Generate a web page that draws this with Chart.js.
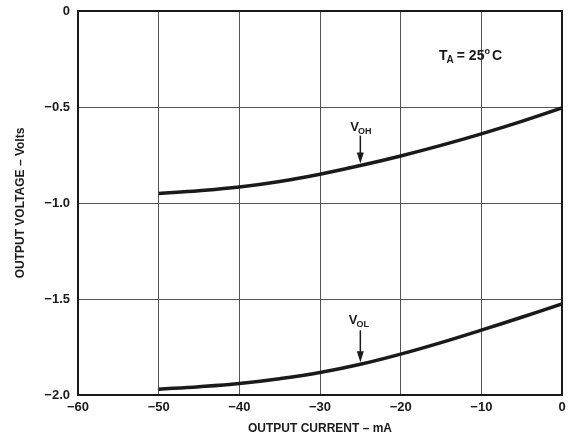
<!DOCTYPE html>
<html><head><meta charset="utf-8">
<script src="https://cdn.jsdelivr.net/npm/chart.js@4/dist/chart.umd.min.js"></script>
<style>html,body{margin:0;padding:0;background:#fff}#wrap{width:568px;height:444px}</style>
</head><body><div id="wrap"><canvas id="c" width="568" height="444"></canvas></div>
<script>
const currents = [-50, -45, -40, -35, -30, -25, -20, -15, -10, -5, 0];
const vohValues = [-0.95, -0.936, -0.917, -0.888, -0.85, -0.805, -0.755, -0.70, -0.64, -0.575, -0.505];
const volValues = [-1.97, -1.957, -1.94, -1.915, -1.883, -1.84, -1.787, -1.727, -1.662, -1.595, -1.525];
const xTicks = [-60, -50, -40, -30, -20, -10, 0];
const yTicks = [0, -0.5, -1.0, -1.5, -2.0];
const xTitle = "OUTPUT CURRENT \u2013 mA";
const yTitle = "OUTPUT VOLTAGE \u2013 Volts";
const arrowAt = -25;

const FONT = "'Liberation Sans', Arial, sans-serif";
const INK = '#1a1a1a';

function fmtY(v){ return v === 0 ? '0' : '\u2212' + Math.abs(v).toFixed(1); }
function fmtX(v){ return v === 0 ? '0' : '\u2212' + Math.abs(v); }

function labelWithSub(ctx, x, y, main, sub, mainSize, subSize){
  ctx.font = `bold ${mainSize}px ${FONT}`;
  const w1 = ctx.measureText(main).width;
  ctx.font = `bold ${subSize}px ${FONT}`;
  const w2 = ctx.measureText(sub).width;
  let sx = x - (w1 + w2) / 2;
  ctx.textAlign = 'left'; ctx.textBaseline = 'alphabetic';
  ctx.font = `bold ${mainSize}px ${FONT}`;
  ctx.fillText(main, sx, y);
  ctx.font = `bold ${subSize}px ${FONT}`;
  ctx.fillText(sub, sx + w1 - 1, y + 3);
}

function arrow(ctx, x, y0, y1){
  ctx.strokeStyle = INK; ctx.fillStyle = INK; ctx.lineWidth = 1.5;
  ctx.beginPath(); ctx.moveTo(x, y0); ctx.lineTo(x, y1 - 8); ctx.stroke();
  ctx.beginPath(); ctx.moveTo(x - 3.5, y1 - 11); ctx.lineTo(x + 3.5, y1 - 11); ctx.lineTo(x, y1); ctx.closePath(); ctx.fill();
}

const annot = {
  id: 'annot',
  afterDraw(chart){
    const ctx = chart.ctx, a = chart.chartArea;
    const xs = chart.scales.x, ys = chart.scales.y;
    ctx.save();
    ctx.strokeStyle = INK; ctx.lineWidth = 2;
    ctx.strokeRect(a.left, a.top, a.right - a.left, a.bottom - a.top);
    ctx.fillStyle = INK;
    const i = currents.indexOf(arrowAt);
    const px = xs.getPixelForValue(arrowAt);
    const yOH = ys.getPixelForValue(vohValues[i]);
    const yOL = ys.getPixelForValue(volValues[i]);
    labelWithSub(ctx, px + 1, yOH - 35, 'V', 'OH', 13, 9);
    arrow(ctx, px, yOH - 30, yOH - 2);
    ctx.fillStyle = INK;
    labelWithSub(ctx, px - 1, yOL - 40, 'V', 'OL', 13, 9);
    arrow(ctx, px, yOL - 34, yOL - 2);
    // T_A label
    ctx.fillStyle = INK;
    ctx.textBaseline = 'alphabetic'; ctx.textAlign = 'left';
    let x = 439, y = 60;
    ctx.font = `bold 14px ${FONT}`; ctx.fillText('T', x, y); x += ctx.measureText('T').width - 1;
    ctx.font = `bold 10px ${FONT}`; ctx.fillText('A', x, y + 3); x += ctx.measureText('A').width + 3;
    ctx.font = `bold 14px ${FONT}`; ctx.fillText('= 25', x, y); x += ctx.measureText('= 25').width;
    ctx.font = `bold 9px ${FONT}`; ctx.fillText('o', x, y - 6); x += ctx.measureText('o').width + 2;
    ctx.font = `bold 14px ${FONT}`; ctx.fillText('C', x, y);
    ctx.restore();
  }
};

new Chart(document.getElementById('c'), {
  type: 'line',
  data: {
    datasets: [
      { label: 'VOH', data: currents.map((c, k) => ({x: c, y: vohValues[k]})) },
      { label: 'VOL', data: currents.map((c, k) => ({x: c, y: volValues[k]})) }
    ]
  },
  options: {
    responsive: false, animation: false,
    layout: { padding: { top: 11, right: 6, left: 13, bottom: 8 } },
    elements: {
      line: { borderColor: INK, borderWidth: 3.5, tension: 0.4, fill: false },
      point: { radius: 0 }
    },
    plugins: { legend: { display: false }, tooltip: { enabled: false } },
    scales: {
      x: {
        type: 'linear', min: -60, max: 0,
        afterBuildTicks(s){ s.ticks = xTicks.map(v => ({value: v})); },
        afterFit(s){ s.height = 41; s.paddingLeft = 0; s.paddingRight = 0; },
        grid: { color: '#555', lineWidth: 1, drawTicks: false },
        border: { display: false },
        ticks: { color: INK, font: { family: FONT, size: 13, weight: 'bold' }, padding: 5, maxRotation: 0, callback: v => fmtX(v) },
        title: { display: true, text: xTitle, color: INK, font: { family: FONT, size: 12, weight: 'bold' }, padding: { top: 2, bottom: 0 } }
      },
      y: {
        type: 'linear', min: -2, max: 0,
        afterBuildTicks(s){ s.ticks = yTicks.map(v => ({value: v})); },
        afterFit(s){ s.width = 65; s.paddingTop = 0; s.paddingBottom = 0; },
        grid: { color: '#555', lineWidth: 1, drawTicks: false },
        border: { display: false },
        ticks: { color: INK, font: { family: FONT, size: 13, weight: 'bold' }, padding: 8, callback: v => fmtY(v) },
        title: { display: true, text: yTitle, color: INK, font: { family: FONT, size: 12, weight: 'bold' }, padding: { top: 0, bottom: 4 } }
      }
    }
  },
  plugins: [annot]
});
</script></body></html>
